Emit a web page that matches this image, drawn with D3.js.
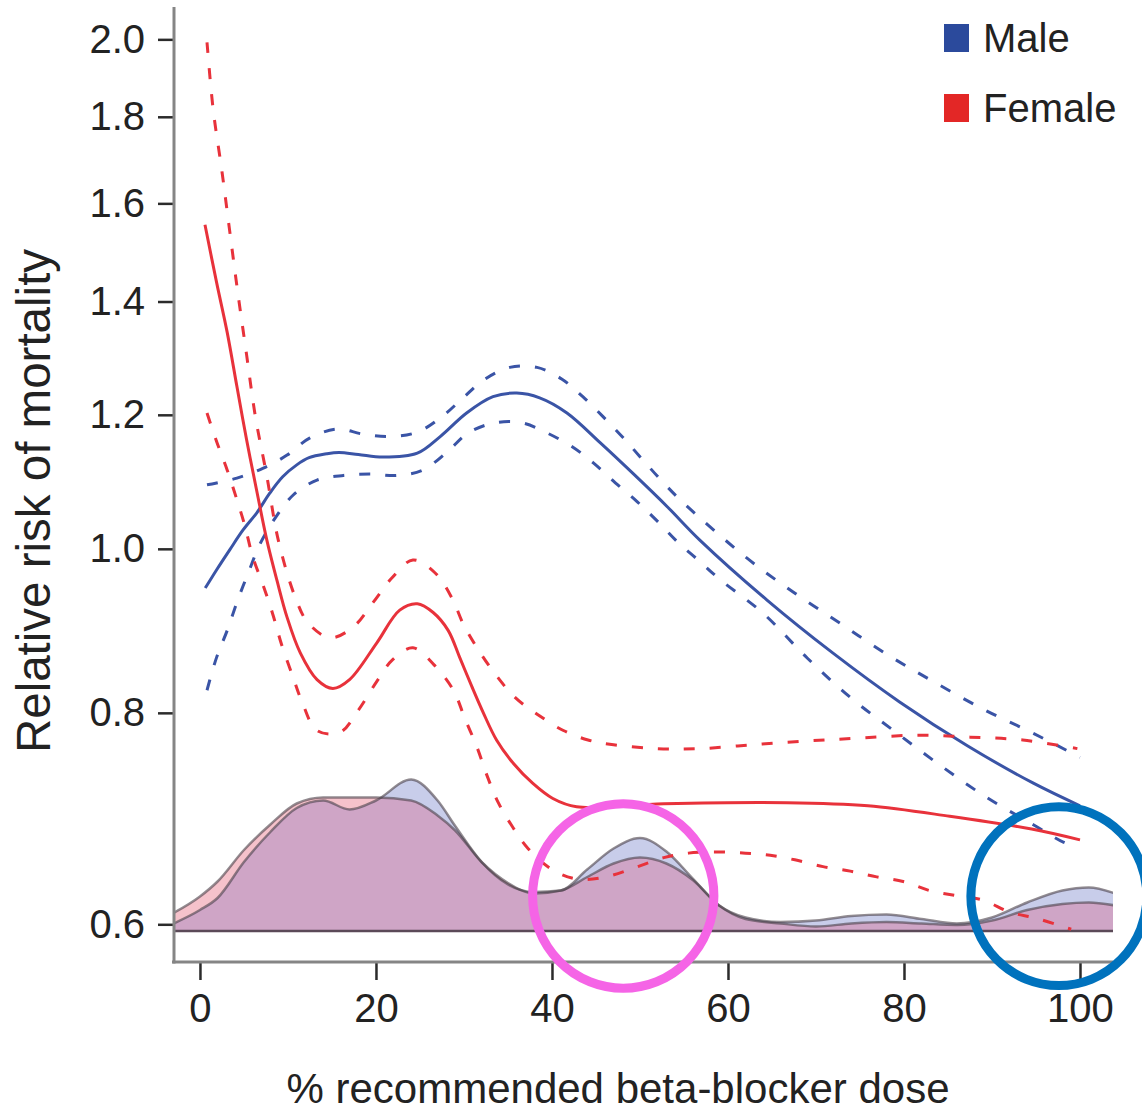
<!DOCTYPE html>
<html lang="en">
<head>
  <meta charset="UTF-8">
  <title>Relative risk of mortality by beta-blocker dose</title>
  <style>
    body { margin: 0; background: #fff; }
    svg { display: block; font-family: "Liberation Sans", Arial, sans-serif; }
  </style>
  <script src="https://d3js.org/d3.v7.min.js"></script>
</head>
<body>
  <div id="chart"></div>
  <script>
    // tick labels
    const xTicks = [0, 20, 40, 60, 80, 100];
    const yTicks = [0.6, 0.8, 1.0, 1.2, 1.4, 1.6, 1.8, 2.0];

    // relative risk curves: [dose %, relative risk]
    const maleFit = [[0.6,0.948],[1.9,0.972],[3.4,0.999],[4.9,1.026],[6.5,1.051],[7.95,1.079],[9.4,1.103],[11,1.121],[12.4,1.132],[14.4,1.138],[15.8,1.140],[18,1.137],[20.8,1.133],[24.7,1.139],[27.3,1.165],[30.3,1.203],[33.3,1.230],[36,1.236],[38.6,1.228],[41.7,1.203],[45.5,1.155],[49.2,1.108],[53.1,1.059],[56.8,1.012],[64.4,0.933],[71.9,0.868],[79.5,0.812],[87.2,0.765],[94.7,0.727],[100,0.705]];
    const maleUpper = [[0.8,1.091],[4.2,1.101],[7.2,1.116],[9.9,1.136],[12.5,1.163],[15.6,1.177],[18.5,1.169],[21.6,1.165],[24.7,1.172],[27.5,1.197],[29.9,1.228],[32.2,1.258],[35.2,1.280],[38.3,1.280],[41.1,1.260],[43.5,1.230],[45.8,1.197],[48.1,1.163],[50.3,1.129],[52.6,1.095],[54.9,1.065],[62.2,0.987],[67.4,0.943],[72.7,0.904],[78.1,0.866],[83.3,0.835],[89,0.804],[94.7,0.778],[100,0.753]];
    const maleLower = [[0.8,0.825],[1.9,0.863],[3.1,0.895],[4.3,0.933],[5.5,0.968],[6.8,1.006],[8.5,1.042],[10.6,1.076],[13.3,1.098],[16.3,1.105],[19.3,1.107],[22.4,1.105],[25.3,1.113],[28.1,1.141],[30.5,1.171],[33.5,1.187],[36.6,1.187],[39.4,1.171],[42.3,1.149],[44.7,1.124],[47.2,1.094],[49.7,1.066],[52,1.038],[54.3,1.009],[56.5,0.986],[59.1,0.959],[64,0.916],[69,0.862],[73.9,0.817],[78.8,0.781],[84.1,0.745],[89.4,0.713],[94.7,0.687],[98.1,0.671],[99.5,0.667]];

    const femaleFit = [[0.57,1.554],[1.9,1.436],[3.1,1.342],[4.2,1.247],[5.3,1.160],[6.5,1.079],[7.6,1.012],[8.75,0.958],[9.9,0.911],[11.4,0.868],[13.3,0.837],[15.1,0.827],[17,0.837],[20.1,0.880],[22.7,0.920],[24.7,0.928],[26.5,0.917],[28.2,0.895],[29.5,0.863],[30.9,0.829],[32.2,0.800],[33.7,0.771],[35.6,0.747],[37.8,0.727],[40.1,0.712],[42.8,0.704],[52.7,0.707],[66.7,0.708],[75.9,0.705],[85.2,0.695],[94.5,0.683],[100,0.673]];
    const femaleUpper = [[0.8,1.992],[1.5,1.818],[2.5,1.671],[3.4,1.538],[4.3,1.417],[5.3,1.302],[6.3,1.197],[7.6,1.104],[8.9,1.012],[10.8,0.937],[12.3,0.904],[14.8,0.886],[17.4,0.899],[19.7,0.930],[21.8,0.961],[24.2,0.985],[26.7,0.968],[28.6,0.936],[30,0.901],[31.8,0.869],[33.8,0.840],[35.8,0.817],[38.4,0.798],[41.3,0.781],[44.1,0.771],[47,0.766],[52,0.762],[56.8,0.762],[62.8,0.766],[69,0.770],[75,0.773],[81.5,0.776],[87.5,0.774],[93.5,0.771],[99.7,0.762]];
    const femaleLower = [[0.8,1.203],[1.9,1.157],[3.1,1.113],[4.2,1.069],[5.1,1.032],[6,0.989],[7.2,0.951],[8.3,0.914],[9.3,0.877],[10.5,0.842],[11.6,0.812],[13.3,0.781],[15.9,0.779],[18,0.803],[20.1,0.835],[21.9,0.860],[24.2,0.874],[26.6,0.854],[28.8,0.825],[30.1,0.794],[31.5,0.763],[32.6,0.735],[33.9,0.708],[35.6,0.684],[37.3,0.665],[40.1,0.646],[42.9,0.638],[46.1,0.640],[49.4,0.648],[52.7,0.657],[55.5,0.661],[58.8,0.662],[62,0.661],[64.8,0.659],[67.6,0.655],[70.8,0.649],[73.9,0.645],[76.9,0.640],[79.9,0.636],[83,0.628],[85.9,0.624],[89,0.620],[92,0.610],[95,0.605],[98.1,0.598],[99,0.596]];

    // dose distribution (relative density)
    const densityDose = [-3,0,2,5,8,11,14,17,20,24,27,29,32,35,38,41,44,47,50,53,56,59,62,66,70,74,78,82,86,90,94,98,101,104];
    const femaleDensity = [0.12,0.23,0.33,0.54,0.71,0.85,0.89,0.89,0.89,0.87,0.77,0.67,0.46,0.32,0.25,0.27,0.36,0.45,0.49,0.45,0.34,0.17,0.08,0.05,0.03,0.05,0.06,0.05,0.04,0.07,0.14,0.18,0.19,0.17];
    const maleDensity = [0.05,0.14,0.22,0.46,0.66,0.82,0.87,0.81,0.87,1.01,0.87,0.70,0.46,0.31,0.26,0.27,0.41,0.55,0.62,0.53,0.35,0.17,0.09,0.06,0.07,0.10,0.11,0.08,0.05,0.09,0.19,0.27,0.29,0.25];

    // highlight rings: [centre dose, top rr, bottom rr, half width in dose]
    const rings = [
      { dose: 48.1, top: 0.707, bottom: 0.550, half: 10.3, color: "#f564e6" },
      { dose: 97.6, top: 0.704, bottom: 0.552, half: 10.0, color: "#0072bd" }
    ];

    const series = [
      { name: "Male", color: "#3a54a6", fit: maleFit, upper: maleUpper, lower: maleLower, legend: "#2b4a9c" },
      { name: "Female", color: "#e8323b", fit: femaleFit, upper: femaleUpper, lower: femaleLower, legend: "#e32726" }
    ];

    const width = 1142, height = 1111;
    const svg = d3.select("#chart").append("svg")
      .attr("width", width)
      .attr("height", height);

    const x = d3.scaleLinear().domain([-2.95, 103.75]).range([174, 1113]);
    const y = d3.scaleLog().domain([0.57, 2.09]).range([962, 7]);
    const dens = d3.scaleLinear().domain([0, 1]).range([931, 781]);

    svg.append("clipPath").attr("id", "plotClip")
      .append("rect")
      .attr("x", x.range()[0]).attr("y", y.range()[1])
      .attr("width", x.range()[1] - x.range()[0])
      .attr("height", y.range()[0] - y.range()[1]);

    const plot = svg.append("g").attr("clip-path", "url(#plotClip)");

    // density areas
    const densArea = d3.area()
      .x((d, i) => x(densityDose[i]))
      .y0(dens(0))
      .y1(d => dens(d))
      .curve(d3.curveMonotoneX);

    svg.append("clipPath").attr("id", "femaleClip")
      .append("path").attr("d", densArea(femaleDensity));

    plot.append("path")
      .attr("d", densArea(femaleDensity))
      .attr("fill", "#f5c2cb");
    plot.append("path")
      .attr("d", densArea(maleDensity))
      .attr("fill", "#c8cdea");
    plot.append("g").attr("clip-path", "url(#femaleClip)")
      .append("path")
      .attr("d", densArea(maleDensity))
      .attr("fill", "#cfa5c6");

    const densLine = d3.line()
      .x((d, i) => x(densityDose[i]))
      .y(d => dens(d))
      .curve(d3.curveMonotoneX);

    [maleDensity, femaleDensity].forEach(arr => {
      plot.append("path")
        .attr("d", densLine(arr))
        .attr("fill", "none")
        .attr("stroke", "#4a4048")
        .attr("stroke-opacity", 0.6)
        .attr("stroke-width", 2.5);
    });

    plot.append("line")
      .attr("x1", x.range()[0]).attr("x2", x.range()[1])
      .attr("y1", dens(0)).attr("y2", dens(0))
      .attr("stroke", "#5b4a58")
      .attr("stroke-width", 2.5);

    // risk curves
    const line = d3.line()
      .x(d => x(d[0]))
      .y(d => y(d[1]))
      .curve(d3.curveCatmullRom.alpha(0.5));

    series.forEach(s => {
      [s.upper, s.lower].forEach(band => {
        plot.append("path")
          .attr("d", line(band))
          .attr("fill", "none")
          .attr("stroke", s.color)
          .attr("stroke-width", 3)
          .attr("stroke-dasharray", "11,15");
      });
      plot.append("path")
        .attr("d", line(s.fit))
        .attr("fill", "none")
        .attr("stroke", s.color)
        .attr("stroke-width", 3);
    });

    // axes
    const xAxis = svg.append("g")
      .attr("transform", `translate(0, ${y.range()[0]})`)
      .call(d3.axisBottom(x).tickValues(xTicks).tickSize(18).tickPadding(14).tickFormat(d3.format("d")));
    xAxis.select(".domain").remove();
    xAxis.append("line")
      .attr("x1", x.range()[0] - 2).attr("x2", x.range()[1])
      .attr("stroke", "#858585").attr("stroke-width", 3);
    xAxis.selectAll(".tick line").attr("stroke", "#2b2b2b").attr("stroke-width", 2.5);
    xAxis.selectAll(".tick text")
      .attr("font-size", 40)
      .attr("fill", "#222")
      .attr("font-family", "Liberation Sans, Arial, sans-serif");

    const yAxis = svg.append("g")
      .attr("transform", `translate(${x.range()[0]}, 0)`)
      .call(d3.axisLeft(y).tickValues(yTicks).tickSize(16).tickPadding(13).tickFormat(d3.format(".1f")));
    yAxis.select(".domain").remove();
    yAxis.append("line")
      .attr("y1", y.range()[1]).attr("y2", y.range()[0] + 1.5)
      .attr("stroke", "#858585").attr("stroke-width", 3);
    yAxis.selectAll(".tick line").attr("stroke", "#2b2b2b").attr("stroke-width", 2.5);
    yAxis.selectAll(".tick text")
      .attr("font-size", 40)
      .attr("fill", "#222")
      .attr("font-family", "Liberation Sans, Arial, sans-serif");

    svg.append("text")
      .attr("x", 618)
      .attr("y", 1103)
      .attr("text-anchor", "middle")
      .attr("font-size", 42)
      .attr("fill", "#222")
      .text("% recommended beta-blocker dose");

    svg.append("text")
      .attr("transform", "translate(50, 501) rotate(-90)")
      .attr("text-anchor", "middle")
      .attr("font-size", 47.5)
      .attr("fill", "#222")
      .text("Relative risk of mortality");

    // legend
    const legend = svg.append("g").attr("transform", "translate(944, 24)");
    const entries = legend.selectAll("g")
      .data(series)
      .enter()
      .append("g")
      .attr("transform", (d, i) => `translate(0, ${i * 70})`);
    entries.append("rect")
      .attr("width", 25).attr("height", 28)
      .attr("fill", d => d.legend);
    entries.append("text")
      .attr("x", 39).attr("y", 28)
      .attr("font-size", 40)
      .attr("fill", "#222")
      .text(d => d.name);

    // highlight rings
    rings.forEach(r => {
      svg.append("ellipse")
        .attr("cx", x(r.dose))
        .attr("cy", (y(r.top) + y(r.bottom)) / 2)
        .attr("rx", x(r.dose + r.half) - x(r.dose))
        .attr("ry", (y(r.bottom) - y(r.top)) / 2)
        .attr("fill", "none")
        .attr("stroke", r.color)
        .attr("stroke-width", 9);
    });
  </script>
</body>
</html>
